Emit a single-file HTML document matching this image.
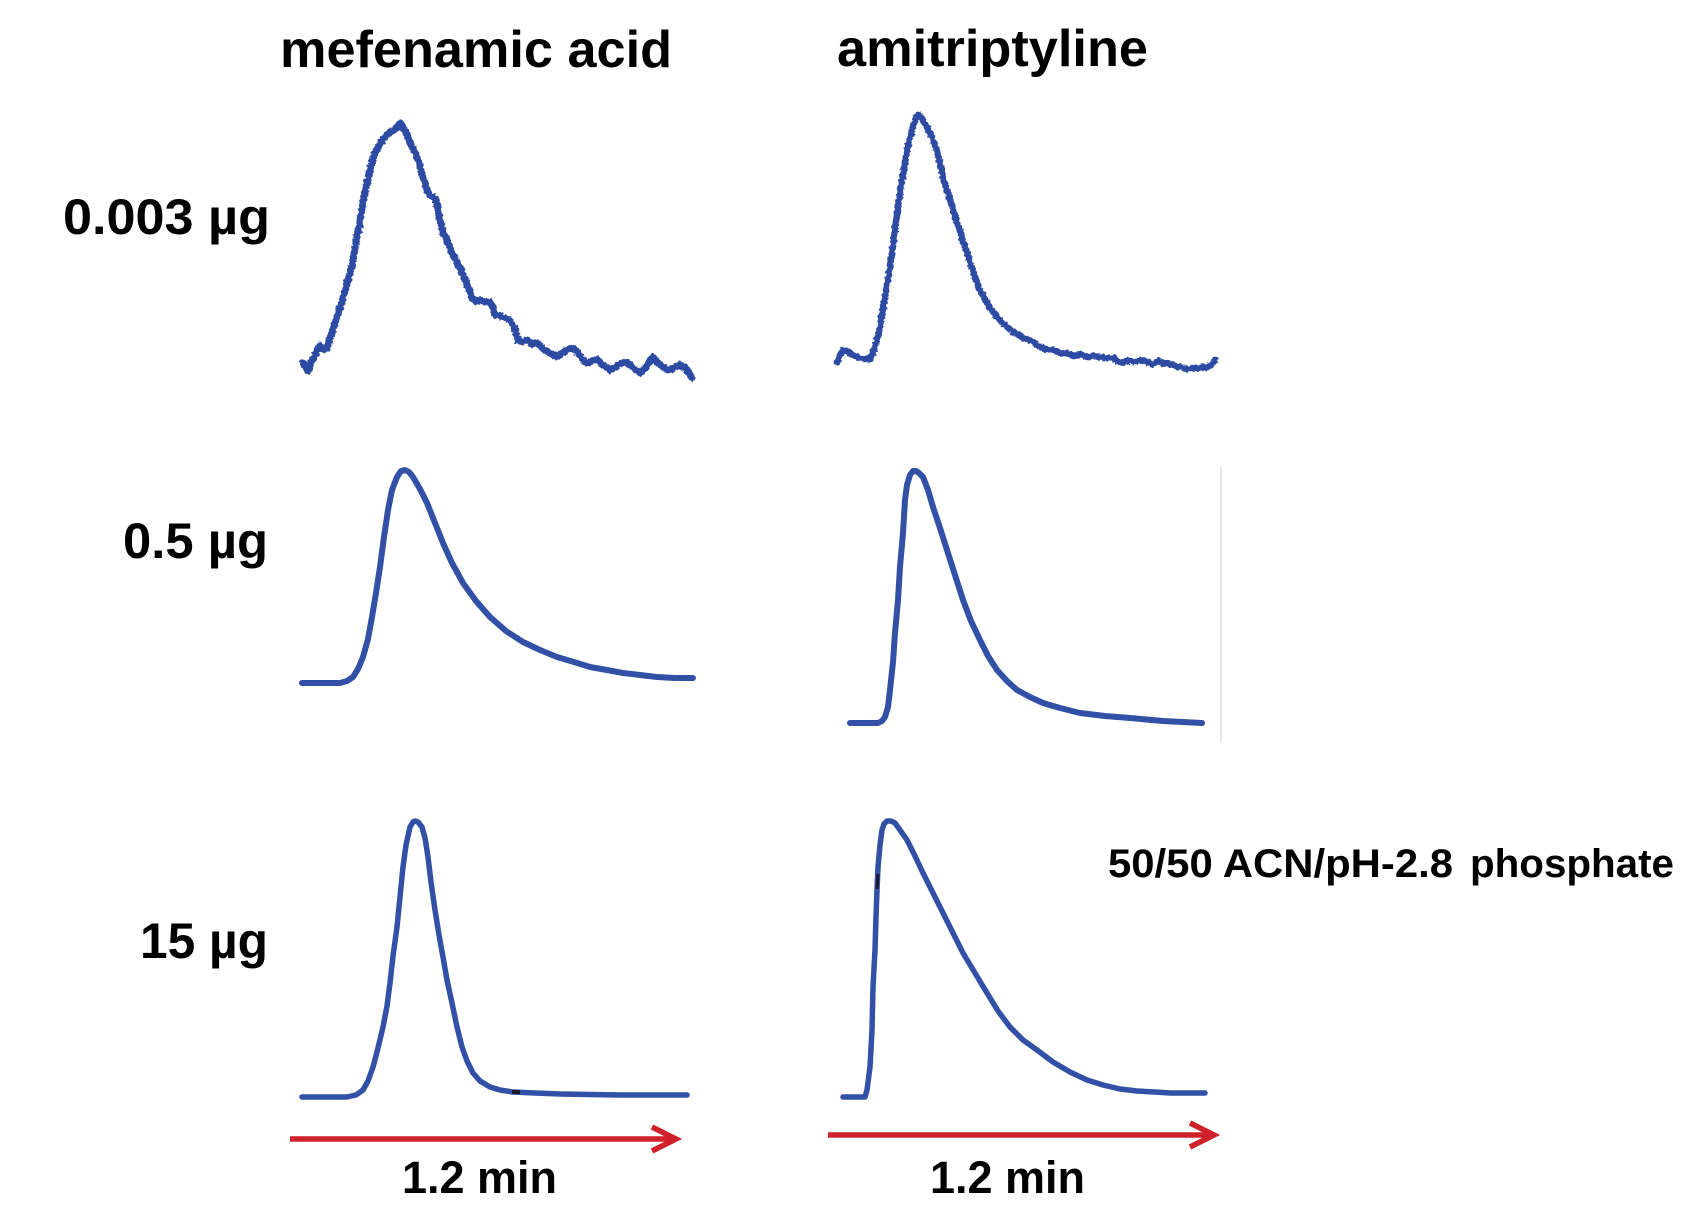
<!DOCTYPE html>
<html>
<head>
<meta charset="utf-8">
<style>
  html, body { margin: 0; padding: 0; background: #ffffff; }
  body { width: 1704px; height: 1212px; overflow: hidden; }
  svg { display: block; }
  text { font-family: "Liberation Sans", Arial, sans-serif; font-weight: bold; fill: #000; }
</style>
</head>
<body>
<svg width="1704" height="1212" viewBox="0 0 1704 1212" xmlns="http://www.w3.org/2000/svg">
  <defs>
    <filter id="jit" x="-5%" y="-5%" width="110%" height="110%">
      <feTurbulence type="fractalNoise" baseFrequency="0.35" numOctaves="2" seed="3" result="n"/>
      <feDisplacementMap in="SourceGraphic" in2="n" scale="4" xChannelSelector="R" yChannelSelector="G"/>
    </filter>
  </defs>
  <rect x="0" y="0" width="1704" height="1212" fill="#ffffff"/>

  <!-- Column titles -->
  <text x="280" y="67" font-size="52" textLength="392" lengthAdjust="spacingAndGlyphs">mefenamic acid</text>
  <text x="837" y="66" font-size="52" textLength="311" lengthAdjust="spacingAndGlyphs">amitriptyline</text>

  <!-- Row labels -->
  <text x="63" y="234" font-size="50" textLength="207" lengthAdjust="spacingAndGlyphs">0.003 µg</text>
  <text x="123" y="558" font-size="50" textLength="145" lengthAdjust="spacingAndGlyphs">0.5 µg</text>
  <text x="140" y="958" font-size="50" textLength="128" lengthAdjust="spacingAndGlyphs">15 µg</text>

  <!-- Condition label -->
  <text x="1108" y="877" font-size="40" textLength="345" lengthAdjust="spacingAndGlyphs">50/50 ACN/pH-2.8</text>
  <text x="1470" y="877" font-size="40" textLength="204" lengthAdjust="spacingAndGlyphs">phosphate</text>

  <!-- Faint vertical gray line -->
  <line x1="1221" y1="467" x2="1221" y2="743" stroke="#dedede" stroke-width="1.5"/>

  <g fill="none" stroke="#3250a6" stroke-linejoin="round" stroke-linecap="round">
    <!-- mefenamic acid 0.003 (noisy) -->
    <polyline filter="url(#jit)" stroke-width="7" stroke="#2f4ba3" points="303,363 306,368 308,371 311,362 314,358 317,351 320,346 324,349 327,348 330,338 334,326 338,313 342,301 346,288 350,273 353,260 356,243 359,227 362,208 365,192 368,180 370,170 373,158 376,151 379,146 382,141 385,137 388,134 391,131 394,130 397,127 400,123 403,127 406,132 409,140 412,147 415,153 418,160 421,170 424,180 427,190 430,195 433,197 436,200 438,210 441,224 443,233 446,238 449,245 452,253 455,258 458,264 461,270 463,275 466,282 469,290 472,298 476,301 480,300 485,302 490,302 493,308 495,315 500,316 505,318 510,320 513,325 516,333 518,340 522,342 527,340 532,344 537,343 542,348 547,351 552,354 557,357 561,354 565,351 569,349 573,348 577,352 581,357 585,362 588,363 592,361 595,360 598,360 602,364 606,367 610,370 614,368 618,365 622,363 627,362 631,366 636,370 640,373 644,369 648,364 653,357 657,362 662,366 667,370 671,369 675,367 680,365 684,367 688,372 692,378"/>

    <!-- amitriptyline 0.003 -->
    <polyline filter="url(#jit)" stroke-width="6.5" stroke="#2f4ba3" points="837,362 840,355 843,350 848,352 853,355 858,357 864,359 870,359 874,350 877,340 880,327 885,297 890,267 894,237 898,207 901,185 905,163 908,146 912,130 915,120 918,115 921,117 924,122 927,127 932,138 937,150 940,163 943,177 948,193 953,210 960,232 967,253 973,272 980,290 988,305 997,317 1005,325 1013,332 1020,336 1027,339 1033,342 1040,347 1047,350 1054,350 1060,353 1067,353 1074,356 1080,354 1087,357 1093,356 1100,357 1107,358 1113,358 1118,361 1123,363 1128,360 1133,362 1140,360 1147,362 1153,364 1158,361 1163,363 1170,364 1175,366 1180,367 1187,369 1193,368 1200,368 1206,367 1211,365 1215,360"/>

    <!-- mefenamic acid 0.5 -->
    <polyline stroke-width="6" points="302,683 340,683 347,681 353,677 358,669 363,657 368,639 372,617 376,593 380,567 384,537 388,510 392,490 397,477 401,471 405,470 409,472 413,477 420,489 427,503 435,523 443,543 452,563 463,583 476,601 490,617 506,631 523,642 540,650 557,657 574,662 590,667 607,670 623,673 640,675 657,677 675,678 693,678"/>

    <!-- amitriptyline 0.5 -->
    <polyline stroke-width="6" points="850,723 878,723 882,721 885,717 888,707 890,690 893,662 895,633 898,600 900,567 903,533 905,500 907,485 910,475 913,471 916,471 919,473 923,477 928,490 933,507 940,528 947,550 955,575 963,600 971,621 980,640 988,656 997,670 1007,681 1017,690 1030,697 1043,703 1060,708 1080,713 1105,716 1130,718 1163,721 1202,723"/>

    <!-- mefenamic acid 15 -->
    <polyline stroke-width="5.5" points="302,1097 347,1097 356,1095 363,1090 368,1081 373,1067 378,1048 383,1027 387,1006 390,983 393,956 397,927 400,897 403,867 406,845 410,827 413,822 415,821 418,822 422,827 425,838 428,857 431,882 435,910 439,935 443,957 447,980 452,1003 457,1027 462,1047 467,1061 473,1073 480,1081 490,1087 500,1090 513,1092 535,1093 560,1094 620,1095 687,1095"/>

    <!-- amitriptyline 15 -->
    <polyline stroke-width="5.5" points="843,1097 865,1097 867,1090 870,1067 872,1030 873,987 875,950 876,917 877,890 878,867 880,845 882,830 884,824 887,821 891,821 895,823 900,830 907,840 915,856 923,873 933,893 943,913 953,933 963,953 975,973 987,993 998,1011 1010,1027 1023,1040 1037,1050 1053,1062 1070,1072 1087,1080 1103,1085 1120,1089 1137,1091 1155,1092 1170,1093 1205,1093"/>
  </g>

  <!-- small dark artifacts -->
  <line x1="512" y1="1092" x2="520" y2="1092" stroke="#1a1a2a" stroke-width="4"/>
  <line x1="878" y1="874" x2="877" y2="889" stroke="#1a1a2a" stroke-width="3"/>

  <!-- Red arrows -->
  <g fill="none" stroke="#d0202a" stroke-width="5.5" stroke-linecap="butt" stroke-linejoin="miter">
    <line x1="290" y1="1139" x2="672" y2="1139"/>
    <polyline points="652,1127 676,1139 652,1151"/>
    <line x1="828" y1="1135" x2="1210" y2="1135"/>
    <polyline points="1190,1123 1214,1135 1190,1147"/>
  </g>

  <!-- Time labels -->
  <text x="402" y="1193" font-size="45" textLength="155" lengthAdjust="spacingAndGlyphs">1.2 min</text>
  <text x="930" y="1193" font-size="45" textLength="155" lengthAdjust="spacingAndGlyphs">1.2 min</text>
</svg>
</body>
</html>
